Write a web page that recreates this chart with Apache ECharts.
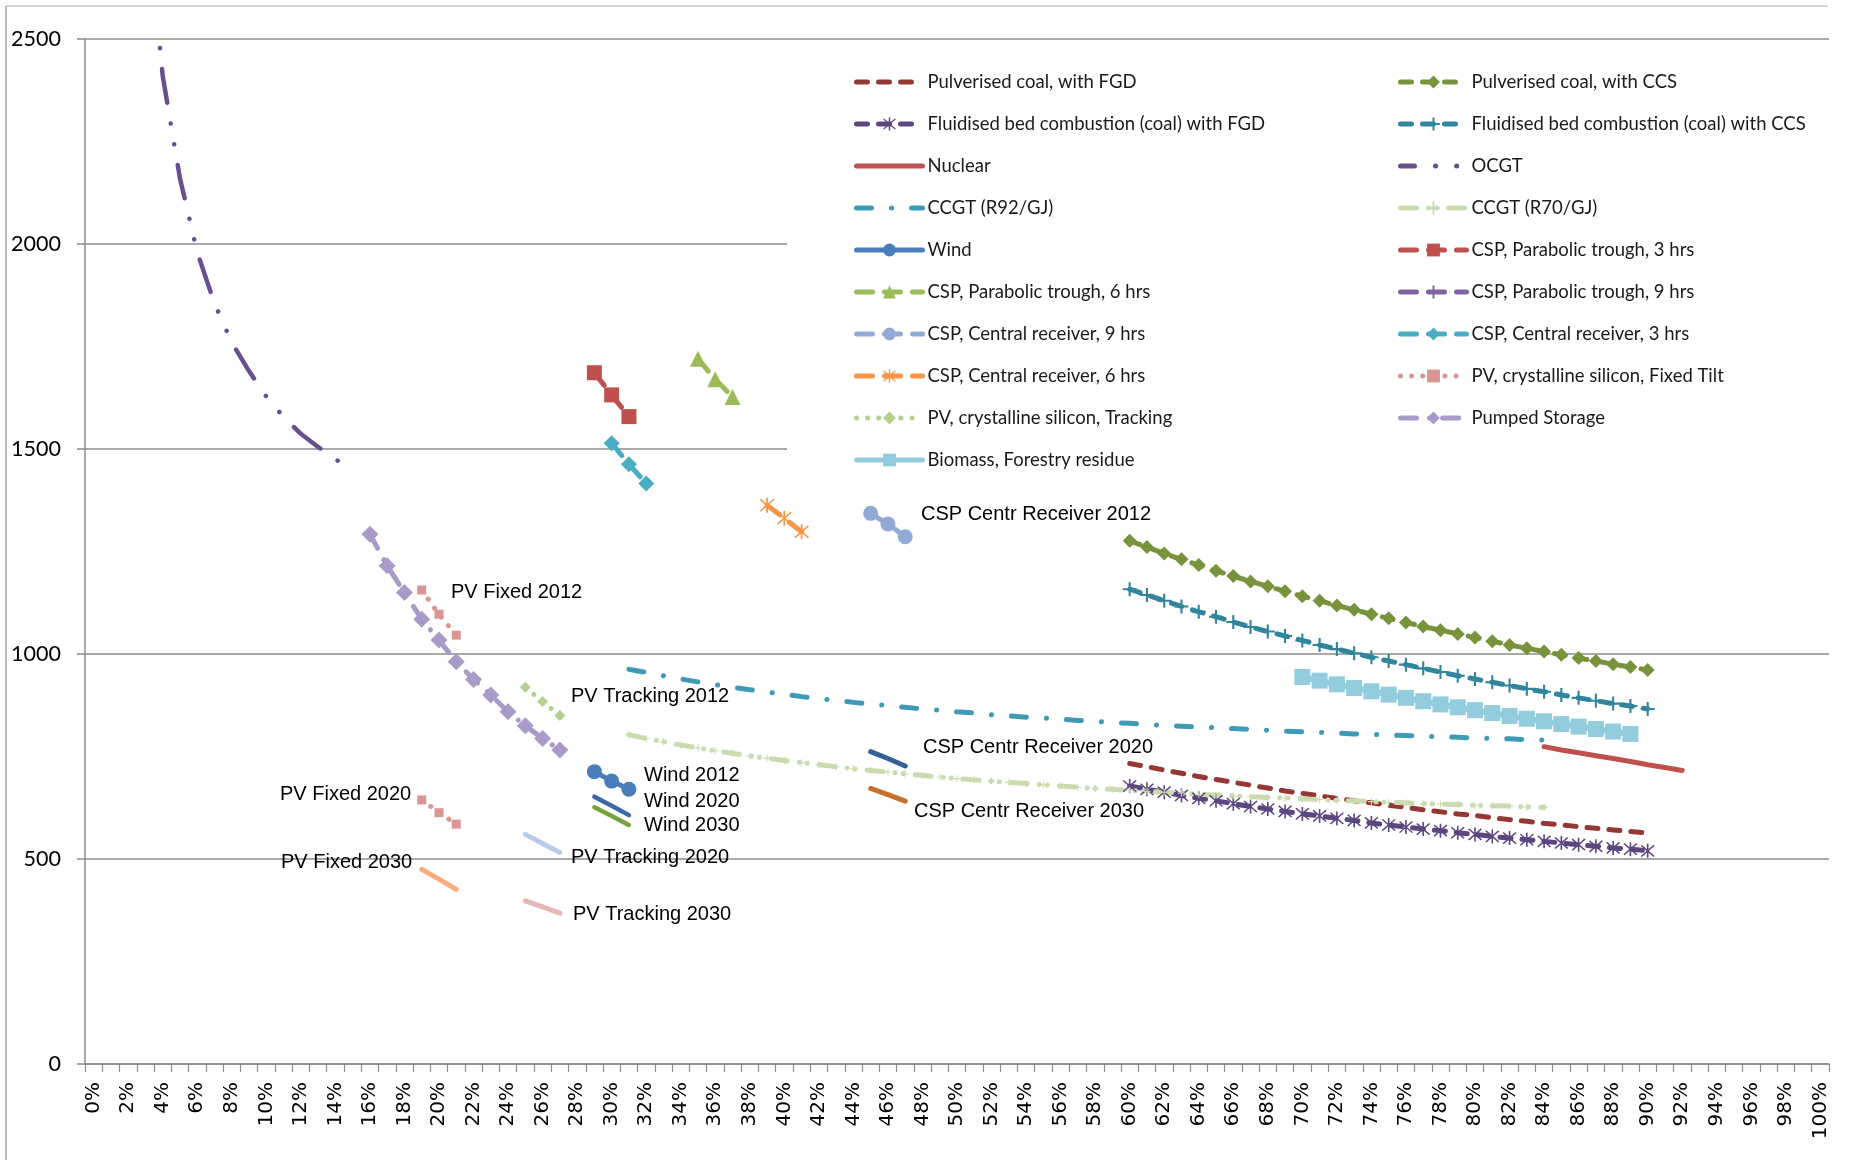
<!DOCTYPE html>
<html><head><meta charset="utf-8">
<script src="https://cdn.jsdelivr.net/npm/echarts@6/dist/echarts.min.js"></script>
<style>html,body{margin:0;padding:0;background:#fff}#c{width:1856px;height:1160px}</style>
</head><body><div id="c"></div>
<script>
// ---------- DATA ----------
const categories = [];
for (let i = 0; i <= 100; i++) categories.push(i + '%');
const yMin = 0, yMax = 2500, yStep = 500;

// each series: first capacity-factor category (%) and the values (R/MWh)
const coalFGDStart = 60;
const coalFGD = [733,725,717,709,701,694,687,680,673,666,660,654,648,642,637,631,626,620,615,610,606,601,596,592,587,583,579,575,571,567,563];
const fbcFGDStart = 60;
const fbcFGD = [678,670,663,655,648,642,635,628,622,616,610,605,599,594,588,583,578,573,569,564,560,555,551,547,543,539,535,531,527,524,520];
const nuclearStart = 84;
const nuclear = [774,766,759,752,745,738,730,723,716];
const ccgt92Start = 31;
const ccgt92 = [963,955,947,939,932,925,919,913,907,902,896,891,887,882,878,874,870,866,863,859,856,852,849,846,844,841,838,836,833,831,828,826,824,822,820,818,816,814,812,810,809,807,805,804,802,801,799,798,797,795,794,793,791,790];
const wind2012Start = 29;
const wind2012 = [713,690,670];
const cspPT6Start = 35;
const cspPT6 = [1720,1670,1627];
const cspCR9Start = 45;
const cspCR9 = [1343,1317,1286];
const cspCR6Start = 39;
const cspCR6 = [1363,1331,1298];
const pvTrack2012Start = 25;
const pvTrack2012 = [919,884,850];
const biomassStart = 70;
const biomass = [944,935,926,917,909,901,893,885,877,870,863,856,849,842,836,829,823,817,811,805];
const coalCCSStart = 60;
const coalCCS = [1276,1261,1245,1231,1217,1203,1190,1177,1165,1153,1141,1130,1118,1108,1097,1087,1077,1067,1058,1049,1040,1031,1022,1014,1006,998,990,983,975,968,961];
const fbcCCSStart = 60;
const fbcCCS = [1158,1144,1130,1116,1103,1091,1078,1066,1055,1044,1033,1022,1012,1002,992,983,974,965,956,947,939,931,923,915,908,900,893,886,879,873,866];
const ocgtStart = 3;
const ocgt = [2850,2410,2160,1980,1855,1760,1690,1628,1578,1537,1505,1475,1450];
const ccgt70Start = 31;
const ccgt70 = [803,794,786,778,771,764,758,751,746,740,735,730,725,720,716,712,708,704,700,696,693,690,687,684,681,678,675,672,670,667,665,663,661,658,656,654,652,650,649,647,645,643,642,640,638,637,635,634,633,631,630,629,627,626];
const cspPT3Start = 29;
const cspPT3 = [1686,1632,1579];
const cspPT9Start = 0;
const cspPT9 = [];
const cspCR3Start = 30;
const cspCR3 = [1514,1463,1416];
const pvFixed2012Start = 19;
const pvFixed2012 = [1156,1097,1046];
const pumpedStart = 16;
const pumped = [1292,1215,1150,1085,1034,981,938,900,859,825,794,766];
// unlabelled-in-legend projections
const pvFixed2020Start = 19;
const pvFixed2020 = [644,613,585];
const pvFixed2030Start = 19;
const pvFixed2030 = [475,451,426];
const pvTrack2020Start = 25;
const pvTrack2020 = [560,538,516];
const pvTrack2030Start = 25;
const pvTrack2030 = [398,383,368];
const wind2020Start = 29;
const wind2020 = [652,630,607];
const wind2030Start = 29;
const wind2030 = [626,605,583];
const cspCR2020Start = 45;
const cspCR2020 = [762,745,727];
const cspCR2030Start = 45;
const cspCR2030 = [672,657,641];

const legendLeft = ['Pulverised coal, with FGD','Fluidised bed combustion (coal) with FGD','Nuclear','CCGT (R92/GJ)','Wind','CSP, Parabolic trough, 6 hrs','CSP, Central receiver, 9 hrs','CSP, Central receiver, 6 hrs','PV, crystalline silicon, Tracking','Biomass, Forestry residue'];
const legendRight = ['Pulverised coal, with CCS','Fluidised bed combustion (coal) with CCS','OCGT','CCGT (R70/GJ)','CSP, Parabolic trough, 3 hrs','CSP, Parabolic trough, 9 hrs','CSP, Central receiver, 3 hrs','PV, crystalline silicon, Fixed Tilt','Pumped Storage'];

const annotations = [
  ['PV Fixed 2012', 451, 592], ['PV Tracking 2012', 571, 696], ['Wind 2012', 644, 775],
  ['Wind 2020', 644, 801], ['Wind 2030', 644, 825], ['PV Fixed 2020', 280, 794],
  ['PV Fixed 2030', 281, 862], ['PV Tracking 2020', 571, 857], ['PV Tracking 2030', 573, 914],
  ['CSP Centr Receiver 2012', 921, 514], ['CSP Centr Receiver 2020', 923, 747], ['CSP Centr Receiver 2030', 914, 811]
];

// ---------- STYLE / BUILD ----------
function place(start, vals) {
  const arr = new Array(categories.length).fill(null);
  vals.forEach((v, k) => { arr[start + k] = v; });
  return arr;
}
const STAR = 'path://M9,0 H11 V20 H9 Z M2.7,1.3 L18.7,17.3 L17.3,18.7 L1.3,2.7 Z M18.7,2.7 L2.7,18.7 L1.3,17.3 L17.3,1.3 Z';
const PLUS = 'path://M0,8.5 H20 V11.5 H0 Z M8.5,0 H11.5 V20 H8.5 Z';
const DASH = [11, 11];
const LONGDASH = [16, 12];

function S(name, start, vals, o) {
  return {
    type: 'line', name: name, data: place(start, vals),
    connectNulls: false, showAllSymbol: true,
    symbol: o.symbol || 'none', symbolSize: o.size || 0,
    lineStyle: { color: o.color, width: o.width || 5, type: o.dash || 'solid', cap: 'round', join: 'round', dashOffset: o.offset || 0 },
    itemStyle: { color: o.mcolor || o.color },
    emphasis: { disabled: true }, animation: false, z: o.z || 2
  };
}

const series = [
  S('Pulverised coal, with FGD', coalFGDStart, coalFGD, { color: '#953735', dash: DASH }),
  S('Fluidised bed combustion (coal) with FGD', fbcFGDStart, fbcFGD, { color: '#5d4680', dash: DASH, symbol: STAR, size: 14 }),
  S('Nuclear', nuclearStart, nuclear, { color: '#c0504d' }),
  S('CCGT (R92/GJ)', ccgt92Start, ccgt92, { color: '#3f9bb5', dash: [15, 20, 0.1, 20] }),
  S('Wind', wind2012Start, wind2012, { color: '#4a7ebb', symbol: 'circle', size: 15 }),
  S('CSP, Parabolic trough, 6 hrs', cspPT6Start, cspPT6, { color: '#9bbb59', dash: LONGDASH, symbol: 'triangle', size: 16 }),
  S('CSP, Central receiver, 9 hrs', cspCR9Start, cspCR9, { color: '#92abd6', dash: LONGDASH, symbol: 'circle', size: 15 }),
  S('CSP, Central receiver, 6 hrs', cspCR6Start, cspCR6, { color: '#f79646', dash: LONGDASH, symbol: STAR, size: 15 }),
  S('PV, crystalline silicon, Tracking', pvTrack2012Start, pvTrack2012, { color: '#b6cf8c', dash: [0.1, 11], symbol: 'diamond', size: 11 }),
  S('Biomass, Forestry residue', biomassStart, biomass, { color: '#93cddd', width: 6, symbol: 'rect', size: 16 }),
  S('Pulverised coal, with CCS', coalCCSStart, coalCCS, { color: '#77933c', dash: DASH, symbol: 'diamond', size: 14 }),
  S('Fluidised bed combustion (coal) with CCS', fbcCCSStart, fbcCCS, { color: '#31859c', dash: DASH, symbol: PLUS, size: 14 }),
  S('OCGT', ocgtStart, ocgt, { color: '#67508f', width: 4.5, dash: [34, 21, 0.1, 21, 0.1, 21], offset: 20 }),
  S('CCGT (R70/GJ)', ccgt70Start, ccgt70, { color: '#cadcaf', dash: [16, 12, 0.1, 8, 0.1, 12], symbol: PLUS, size: 7 }),
  S('CSP, Parabolic trough, 3 hrs', cspPT3Start, cspPT3, { color: '#c0504d', dash: LONGDASH, symbol: 'rect', size: 15 }),
  S('CSP, Parabolic trough, 9 hrs', cspPT9Start, cspPT9, { color: '#8064a2', dash: LONGDASH, symbol: PLUS, size: 13 }),
  S('CSP, Central receiver, 3 hrs', cspCR3Start, cspCR3, { color: '#4bacc6', dash: LONGDASH, symbol: 'diamond', size: 16 }),
  S('PV, crystalline silicon, Fixed Tilt', pvFixed2012Start, pvFixed2012, { color: '#d99694', dash: [0.1, 11], symbol: 'rect', size: 9 }),
  S('Pumped Storage', pumpedStart, pumped, { color: '#a99bc7', dash: [16, 13, 0.1, 13], symbol: 'diamond', size: 17 }),
  S('PV Fixed 2020', pvFixed2020Start, pvFixed2020, { color: '#d99694', dash: [0.1, 11], symbol: 'rect', size: 9 }),
  S('PV Fixed 2030', pvFixed2030Start, pvFixed2030, { color: '#f7ad7c' }),
  S('PV Tracking 2020', pvTrack2020Start, pvTrack2020, { color: '#b9cce6' }),
  S('PV Tracking 2030', pvTrack2030Start, pvTrack2030, { color: '#e4b7b6' }),
  S('Wind 2020', wind2020Start, wind2020, { color: '#3b68a6', width: 4.5 }),
  S('Wind 2030', wind2030Start, wind2030, { color: '#77a23d', width: 4.5 }),
  S('CSP Centr Receiver 2020', cspCR2020Start, cspCR2020, { color: '#365f94' }),
  S('CSP Centr Receiver 2030', cspCR2030Start, cspCR2030, { color: '#c5702c' })
];

const noMarker = new Set(series.filter(s => s.symbol === 'none').map(s => s.name));
function legendItems(list) {
  return list.map(n => noMarker.has(n) ? { name: n, itemStyle: { opacity: 0 } } : { name: n });
}
const legendCommon = {
  orient: 'vertical', top: 71, padding: 0, itemWidth: 66, itemHeight: 16, itemGap: 20,
  selectedMode: false,
  lineStyle: { width: 5, cap: 'round' },
  textStyle: { fontFamily: 'Lato', fontSize: 18.5, color: '#1a1a1a', lineHeight: 22 }
};

const GRID = '#8c8c8c';
const graphic = [
  { type: 'rect', z: 1, silent: true, shape: { x: 787, y: 44, width: 1042, height: 442 }, style: { fill: '#ffffff' } },
  { type: 'line', z: 1, silent: true, shape: { x1: 6, y1: 6, x2: 1828, y2: 6 }, style: { stroke: '#c8c8c8', lineWidth: 1.5 } },
  { type: 'line', z: 1, silent: true, shape: { x1: 6, y1: 6, x2: 6, y2: 1160 }, style: { stroke: '#a6a6a6', lineWidth: 1.5 } }
].concat(annotations.map(a => ({
  type: 'text', z: 10, silent: true, x: a[1], y: a[2],
  style: { text: a[0], fontFamily: 'Liberation Sans', fontSize: 20, fill: '#000', verticalAlign: 'middle', align: 'left' }
})));

const chart = echarts.init(document.getElementById('c'), null, { renderer: 'canvas' });
chart.setOption({
  animation: false,
  backgroundColor: '#ffffff',
  grid: { left: 85, right: 27, top: 39, bottom: 96, containLabel: false },
  xAxis: {
    type: 'category', data: categories, boundaryGap: true,
    axisLine: { lineStyle: { color: GRID, width: 1.5 } },
    axisTick: { show: true, interval: 0, length: 8, alignWithLabel: false, lineStyle: { color: GRID, width: 1.2 } },
    axisLabel: { interval: 1, rotate: 90, margin: 18, fontFamily: 'DejaVu Sans', fontSize: 20, color: '#000' },
    splitLine: { show: false }
  },
  yAxis: {
    type: 'value', min: yMin, max: yMax, interval: yStep,
    axisLine: { show: true, lineStyle: { color: GRID, width: 1.5 } },
    axisTick: { show: true, length: 8, lineStyle: { color: GRID, width: 1.5 } },
    axisLabel: { margin: 24, fontFamily: 'Lato', fontSize: 21.5, color: '#000', formatter: v => String(v) },
    splitLine: { show: true, lineStyle: { color: GRID, width: 1.5 } }
  },
  legend: [
    Object.assign({}, legendCommon, { left: 854, data: legendItems(legendLeft) }),
    Object.assign({}, legendCommon, { left: 1398, data: legendItems(legendRight) })
  ],
  graphic: graphic,
  series: series
});
</script></body></html>
